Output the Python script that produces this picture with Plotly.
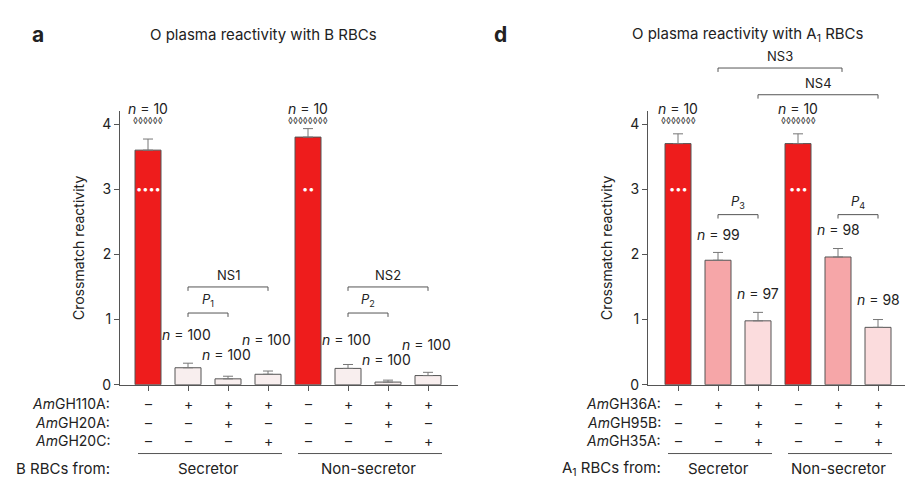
import plotly.graph_objects as go

# panel a: O plasma with B RBCs
A_VALUES = [3.6, 0.26, 0.09, 0.16, 3.8, 0.25, 0.04, 0.14]
A_ERR = [0.17, 0.07, 0.04, 0.05, 0.13, 0.06, 0.03, 0.05]
A_N = ["10", "100", "100", "100", "10", "100", "100", "100"]
A_N_Y = [4.24, 0.77, 0.47, 0.69, 4.24, 0.69, 0.39, 0.62]
A_N_X = [0, 0.95, 1.95, 2.95, 4, 4.95, 5.95, 6.95]
A_ROWS = {
    "<i>Am</i>GH110A:": ["–", "+", "+", "+", "–", "+", "+", "+"],
    "<i>Am</i>GH20A:": ["–", "–", "+", "–", "–", "–", "+", "–"],
    "<i>Am</i>GH20C:": ["–", "–", "–", "+", "–", "–", "–", "+"],
}
A_COLORS = ["#ee1c1c", "#f8eeee", "#f8eeee", "#f8eeee", "#ee1c1c", "#f8eeee", "#f8eeee", "#f8eeee"]
A_DIAMONDS = ["◊◊◊◊◊◊", "◊◊◊◊◊◊◊◊"]
A_DOTS = ["••••", "••"]

# panel d: O plasma with A1 RBCs
D_VALUES = [3.7, 1.91, 0.98, 3.7, 1.96, 0.88]
D_ERR = [0.15, 0.12, 0.13, 0.15, 0.13, 0.12]
D_N = ["10", "99", "97", "10", "98", "98"]
D_N_Y = [4.24, 2.31, 1.4, 4.24, 2.38, 1.3]
D_ROWS = {
    "<i>Am</i>GH36A:": ["–", "+", "+", "–", "+", "+"],
    "<i>Am</i>GH95B:": ["–", "–", "+", "–", "–", "+"],
    "<i>Am</i>GH35A:": ["–", "–", "+", "–", "–", "+"],
}
D_COLORS = ["#ee1c1c", "#f6a6a8", "#fbdcdd", "#ee1c1c", "#f6a6a8", "#fbdcdd"]

FONT = "Inter, Roboto, sans-serif"
W, H = 913, 486
Y0, YPX = 383, 66.25  # pixel of zero, pixels per unit


def py(v):
    return 1 - v / H


def dy(v):
    # data value -> paper y
    return py(Y0 - v * YPX)


fig = go.Figure()

for xa, ya, vals, errs, cols in [
    ("x", "y", A_VALUES, A_ERR, A_COLORS),
    ("x2", "y2", D_VALUES, D_ERR, D_COLORS),
]:
    fig.add_trace(go.Bar(
        x=list(range(len(vals))), y=vals, xaxis=xa, yaxis=ya, width=0.65,
        marker=dict(color=cols, line=dict(color="#555", width=1)),
        error_y=dict(type="data", array=errs, arrayminus=[0] * len(errs),
                     symmetric=False, color="#777", thickness=1, width=5),
        showlegend=False,
    ))

ydom = [1 - Y0 / H, 1 - (Y0 - 4.2 * YPX) / H]
axis_common = dict(showgrid=False, zeroline=False, showline=True, linecolor="#555",
                   ticks="outside", ticklen=5, tickcolor="#555", tickfont=dict(size=14))
fig.update_layout(
    width=W, height=H, margin=dict(l=0, r=0, t=0, b=0),
    paper_bgcolor="white", plot_bgcolor="white",
    font=dict(family=FONT, size=13, color="#222"),
    xaxis=dict(domain=[112 / W, 450 / W], range=[-0.7, 7.75], tickvals=list(range(8)),
               showticklabels=False, **axis_common),
    yaxis=dict(domain=ydom, range=[0, 4.2], tickvals=[0, 1, 2, 3, 4], anchor="x",
               title=dict(text="Crossmatch reactivity", standoff=14, font=dict(size=14)),
               **axis_common),
    xaxis2=dict(domain=[640 / W, 898 / W], range=[-0.75, 5.7], tickvals=list(range(6)),
                showticklabels=False, anchor="y2", **axis_common),
    yaxis2=dict(domain=ydom, range=[0, 4.2], tickvals=[0, 1, 2, 3, 4], anchor="x2",
                title=dict(text="Crossmatch reactivity", standoff=14, font=dict(size=14)),
                **axis_common),
)

ann = []
shapes = []


def text(x, y, t, xref, size=13, xanchor="center", yanchor="middle", color="#222"):
    ann.append(dict(x=x, y=y, text=t, xref=xref, yref="paper", showarrow=False,
                    xanchor=xanchor, yanchor=yanchor,
                    font=dict(size=size, family=FONT, color=color)))


def bracket(x0, x1, y, label, xr):
    for seg in [(x0, y, x1, y), (x0, y, x0, y - 0.06), (x1, y, x1, y - 0.06)]:
        shapes.append(dict(type="line", xref=xr, yref="paper", x0=seg[0], y0=dy(seg[1]),
                           x1=seg[2], y1=dy(seg[3]), line=dict(color="#555", width=1)))
    text((x0 + x1) / 2, dy(y + 0.03), label, xr, yanchor="bottom")


# panel a annotations
for i, n in enumerate(A_N):
    text(A_N_X[i], dy(A_N_Y[i]), f"<i>n</i> = {n}", "x", size=14)
for i, d, s in zip([0, 4], A_DIAMONDS, A_DOTS):
    text(i, dy(4.05), d, "x", size=9, color="#444")
    text(i, dy(3.0), s, "x", size=11, color="white")
bracket(1, 3, 1.5, "NS1", "x")
bracket(1, 2, 1.1, "<i>P</i><sub>1</sub>", "x")
bracket(5, 7, 1.5, "NS2", "x")
bracket(5, 6, 1.1, "<i>P</i><sub>2</sub>", "x")

# panel d annotations
for i, n in enumerate(D_N):
    text(i, dy(D_N_Y[i]), f"<i>n</i> = {n}", "x2", size=14)
for i in [0, 3]:
    text(i, dy(4.05), "◊◊◊◊◊◊◊", "x2", size=9, color="#444")
    text(i, dy(3.0), "•••", "x2", size=11, color="white")
bracket(1, 2, 2.61, "<i>P</i><sub>3</sub>", "x2")
bracket(4, 5, 2.61, "<i>P</i><sub>4</sub>", "x2")
bracket(1, 4.1, 4.86, "NS3", "x2")
bracket(2, 5, 4.45, "NS4", "x2")

# +/- rows below axes
row_px = [402, 421, 440]
for rows, xr, lab_x in [(A_ROWS, "x", 104), (D_ROWS, "x2", 655)]:
    for r, (name, marks) in enumerate(rows.items()):
        text(lab_x / W, py(row_px[r]), name, "paper", size=14, xanchor="right")
        for i, m in enumerate(marks):
            text(i, py(row_px[r]), m, xr, size=14)

for xr, groups in [("x", [(0, 3), (4, 7)]), ("x2", [(0, 2), (3, 5)])]:
    for (g0, g1), name in zip(groups, ["Secretor", "Non-secretor"]):
        shapes.append(dict(type="line", xref=xr, yref="paper", x0=g0 - 0.25, x1=g1 + 0.35,
                           y0=py(453), y1=py(453), line=dict(color="#555", width=1)))
        text((g0 + g1) / 2, py(468), name, xr, size=15)
text(104 / W, py(468), "B RBCs from:", "paper", size=15, xanchor="right")
text(655 / W, py(468), "A<sub>1</sub> RBCs from:", "paper", size=15, xanchor="right")

# titles
text(255 / W, py(27), "O plasma reactivity with B RBCs", "paper", size=15)
text(740 / W, py(27), "O plasma reactivity with A<sub>1</sub> RBCs", "paper", size=15)
text(22 / W, py(27), "<b>a</b>", "paper", size=21, xanchor="left")
text(484 / W, py(27), "<b>d</b>", "paper", size=21, xanchor="left")

fig.update_layout(annotations=ann, shapes=shapes)
fig.write_html("out.html")
